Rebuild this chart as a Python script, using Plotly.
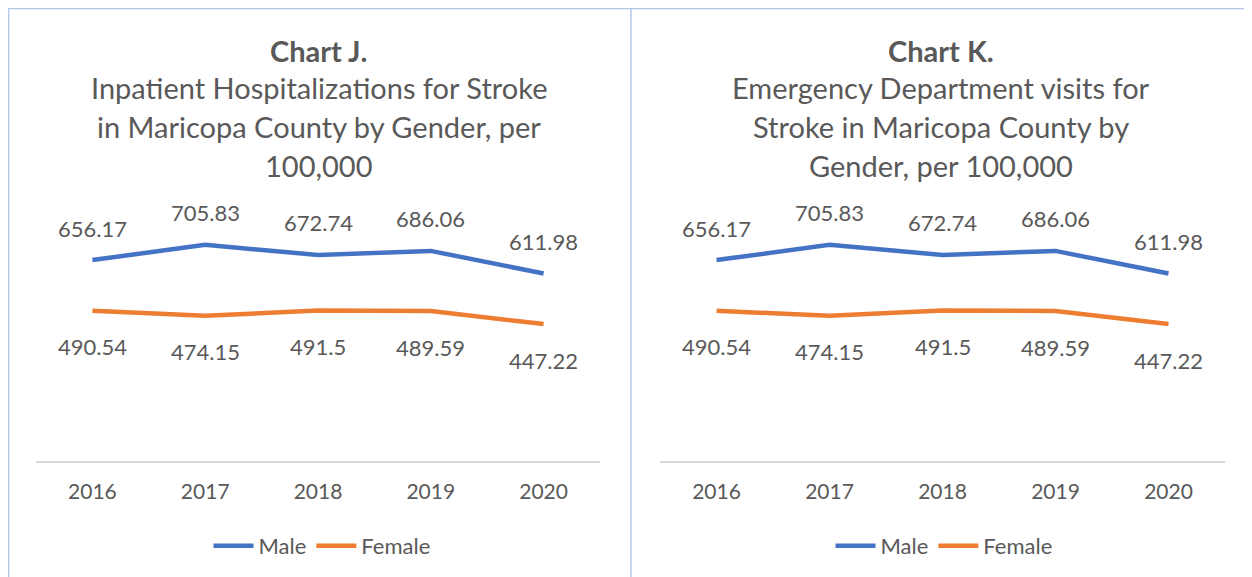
import plotly.graph_objects as go

years = ["2016", "2017", "2018", "2019", "2020"]
male = [656.17, 705.83, 672.74, 686.06, 611.98]
female = [490.54, 474.15, 491.5, 489.59, 447.22]
male_labels = ["656.17", "705.83", "672.74", "686.06", "611.98"]
female_labels = ["490.54", "474.15", "491.5", "489.59", "447.22"]
titles = [
    ["Chart J.", "Inpatient Hospitalizations for Stroke", "in Maricopa County by Gender, per", "100,000"],
    ["Chart K.", "Emergency Department visits for", "Stroke in Maricopa County by", "Gender, per 100,000"],
]

OFF = 8  # browser body margin
W, H = 1252 - OFF, 577 - OFF
BLUE = "#4472C4"
ORANGE = "#ED7D31"
TXT = "#595959"
FONT = "Lato"

def px(x):
    return (x - OFF) / W

def py(y):
    return 1 - (y - OFF) / H

fig = go.Figure()
panels = [
    dict(x0=36, x1=600, center=318.5, xa="x", ya="y", legend="legend"),
    dict(x0=660, x1=1225, center=940.5, xa="x2", ya="y2", legend="legend2"),
]

annotations = []
for i, p in enumerate(panels):
    fig.add_trace(go.Scatter(x=years, y=male, mode="lines", name="Male",
                             line=dict(color=BLUE, width=4.5), xaxis=p["xa"], yaxis=p["ya"],
                             legend=p["legend"]))
    fig.add_trace(go.Scatter(x=years, y=female, mode="lines", name="Female",
                             line=dict(color=ORANGE, width=4.5), xaxis=p["xa"], yaxis=p["ya"],
                             legend=p["legend"]))
    for k, (v, lab) in enumerate(zip(male, male_labels)):
        annotations.append(dict(x=k, y=v, xref=p["xa"], yref=p["ya"], text=lab, showarrow=False,
                                yshift=32, font=dict(family=FONT, size=22, color=TXT)))
    for k, (v, lab) in enumerate(zip(female, female_labels)):
        annotations.append(dict(x=k, y=v, xref=p["xa"], yref=p["ya"], text=lab, showarrow=False,
                                yshift=-36, font=dict(family=FONT, size=22, color=TXT)))
    tys = [50, 88, 127, 165]
    for j, (t, ty) in enumerate(zip(titles[i], tys)):
        annotations.append(dict(x=px(p["center"]), y=py(ty), xref="paper", yref="paper",
                                text=("<b>%s</b>" % t) if j == 0 else t, showarrow=False,
                                xanchor="center", yanchor="middle",
                                font=dict(family=FONT, size=29, color=TXT)))

ydom = [py(461), py(216)]
axis_common = dict(type="category", range=[-0.5, 4.5], showgrid=False, zeroline=False,
                   showline=True, linecolor="#D9D9D9", linewidth=2, ticks="",
                   tickfont=dict(family=FONT, size=21, color=TXT), ticklabelstandoff=11)
yaxis_common = dict(range=[0, 800], showline=False, showgrid=False, zeroline=False,
                    showticklabels=False, ticks="", domain=ydom)

legend_common = dict(orientation="h", xanchor="center", yanchor="middle", y=py(546),
                     font=dict(family=FONT, size=22, color=TXT), bgcolor="rgba(0,0,0,0)",
                     itemwidth=40, tracegroupgap=0)

shapes = [
    dict(type="line", xref="paper", yref="paper", x0=0, x1=1, y0=py(8.6), y1=py(8.6),
         line=dict(color="#B4C7E7", width=1.5)),
    dict(type="line", xref="paper", yref="paper", x0=px(8.6), x1=px(8.6), y0=py(8.6), y1=0,
         line=dict(color="#B4C7E7", width=1.5)),
    dict(type="line", xref="paper", yref="paper", x0=px(631), x1=px(631), y0=py(8.6), y1=0,
         line=dict(color="#B4C7E7", width=1.5)),
]

fig.update_layout(
    width=W, height=H, margin=dict(l=0, r=0, t=0, b=0),
    paper_bgcolor="white", plot_bgcolor="white",
    xaxis=dict(axis_common, domain=[px(36), px(600)], anchor="y"),
    xaxis2=dict(axis_common, domain=[px(660), px(1225)], anchor="y2"),
    yaxis=dict(yaxis_common, anchor="x"),
    yaxis2=dict(yaxis_common, anchor="x2"),
    legend=dict(legend_common, x=px(322)),
    legend2=dict(legend_common, x=px(944)),
    annotations=annotations, shapes=shapes,
    showlegend=True,
)

fig.write_html("out.html")
